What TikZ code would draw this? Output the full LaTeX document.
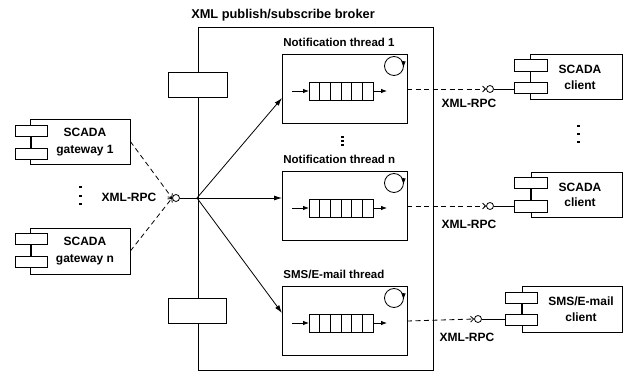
\documentclass[tikz,border=0pt]{standalone}
\usepackage{fontspec}
\setmainfont{Liberation Sans}
\usetikzlibrary{arrows.meta,calc}
\begin{document}
\begin{tikzpicture}[x=1pt,y=-1pt,line width=0.8pt,
  txt/.style={font=\bfseries\fontsize{12}{15.5}\selectfont,inner sep=0pt},
  thl/.style={font=\bfseries\fontsize{11.5}{14}\selectfont,inner sep=0pt},
  ctxt/.style={txt,align=center},
  bigbox/.style={draw,fill=white,inner sep=0pt},
  port/.style={draw,fill=white,inner sep=0pt,minimum width=32pt,minimum height=11pt},
  lolli/.style={circle,draw,fill=white,inner sep=0pt,minimum size=7pt},
  rpc/.style={dashed,dash pattern=on 5pt off 3.5pt,-{Straight Barb[length=3pt,width=6pt]}},
  flow/.style={-{Latex[length=8pt,width=5pt]}},
  qarrow/.style={-{Latex[length=6pt,width=4.5pt]}},
  dotmark/.style={fill=black,inner sep=0pt,minimum width=3pt,minimum height=2pt}]
\useasboundingbox (0,0) rectangle (625,371);

% broker
\node[txt,font=\bfseries\fontsize{12.8}{15}\selectfont] (title) at (283,15) {XML publish/subscribe broker};
\node[draw,anchor=north west,minimum width=235pt,minimum height=343pt,inner sep=0pt] (broker) at (198,27) {};
\node[port,minimum width=59pt,minimum height=25pt] (p1) at (197.5,84.5) {};
\node[port,minimum width=58pt,minimum height=25pt] (p2) at (197,310.5) {};

% thread boxes
\newcommand\threadbox[3]{%
  \node[draw,anchor=north west,minimum width=125pt,minimum height=69pt,inner sep=0pt] (#1) at (282,#2) {};
  \node[thl,anchor=west] (#1lab) at (283,#2-12) {#3};
  \begin{scope}[shift={(282,#2)}]
    \draw (27,28) rectangle (91,46);
    \foreach \i in {1,...,5} \draw ({27+\i*64/6},28) -- ({27+\i*64/6},46);
    \draw[qarrow] (10,37) -- (27,37);
    \draw[qarrow] (91,37) -- (105,37);
    \draw (112,12) circle (9.5);
    \draw[qarrow] (121.5,7.5) -- (121.5,13.5);
  \end{scope}
  \coordinate (#1out) at (407,#2+35);
}
\threadbox{t1}{54}{Notification thread 1}
\threadbox{tn}{171}{Notification thread n}
\threadbox{ts}{286}{SMS/E-mail thread}

% dots between threads
\node[dotmark] (d1) at (342,137) {};
\node[dotmark] (d2) at (342,141) {};
\node[dotmark] (d3) at (342,145) {};

% gateways
\node[bigbox,minimum width=100pt,minimum height=45pt] (g1) at (80,141.5) {};
\node[port] (g1a) at (31,130.5) {};
\node[port] (g1b) at (31,153.5) {};
\draw (g1a.south) -- (g1b.north);
\node[ctxt,font=\bfseries\fontsize{12}{17}\selectfont] (g1t) at (85,142) {SCADA\\gateway 1};

\node[bigbox,minimum width=100pt,minimum height=46pt] (gn) at (80,251) {};
\node[port] (gna) at (31,238.5) {};
\node[port] (gnb) at (31,261.5) {};
\draw (gna.south) -- (gnb.north);
\node[ctxt,font=\bfseries\fontsize{12}{17}\selectfont] (gnt) at (85,251) {SCADA\\gateway n};

\node[dotmark] (gd1) at (80,187) {};
\node[dotmark] (gd2) at (80,196) {};
\node[dotmark] (gd3) at (80,204) {};

% left interface
\node[lolli] (ll) at (176,198) {};
\coordinate (hub) at (197,198);
\node[txt] (lrpc) at (129,197) {XML-RPC};
\draw[rpc] (g1.east) -- (ll.west);
\draw[rpc] (gn.east) -- (ll.west);
\draw (ll.east) -- (hub);
\draw[flow] (hub) -- (282,98);
\draw[flow] (hub) -- (282,198);
\draw[flow] (hub) -- (282,313);

% clients
\node[bigbox,minimum width=92pt,minimum height=45pt] (c1) at (576,76.5) {};
\node[port,minimum width=33pt,minimum height=12pt] (c1a) at (530.5,65) {};
\node[port,minimum width=33pt,minimum height=11pt] (c1b) at (530.5,87.5) {};
\draw (c1a.south) -- (c1b.north);
\node[ctxt] (c1t) at (580,77.5) {SCADA\\client};

\node[bigbox,minimum width=91pt,minimum height=45pt] (c2) at (576.5,194.5) {};
\node[port,minimum width=33pt,minimum height=11pt] (c2a) at (530.5,182.5) {};
\node[port,minimum width=33pt,minimum height=12pt] (c2b) at (530.5,206) {};
\draw (c2a.south) -- (c2b.north);
\node[ctxt] (c2t) at (580,195) {SCADA\\client};

\node[bigbox,minimum width=100pt,minimum height=46pt] (c3) at (572,309) {};
\node[port,minimum width=32pt,minimum height=11pt] (c3a) at (521,297.5) {};
\node[port,minimum width=32pt,minimum height=11pt] (c3b) at (521,319.5) {};
\draw (c3a.south) -- (c3b.north);
\node[ctxt] (c3t) at (581,309) {SMS/E-mail\\client};

\node[dotmark] (cd1) at (578,126) {};
\node[dotmark] (cd2) at (578,134) {};
\node[dotmark] (cd3) at (578,142) {};

% right interfaces
\node[lolli] (r1) at (490,89) {};
\node[lolli] (r2) at (490,206) {};
\node[lolli] (r3) at (478,319) {};
\draw[rpc] (t1out) -- (r1.west);
\draw[rpc] (tnout) -- (r2.west);
\draw[rpc] (tsout) -- (r3.west);
\draw (r1.east) -- (r1.east -| c1b.west);
\draw (r2.east) -- (r2.east -| c2b.west);
\draw (r3.east) -- (r3.east -| c3b.west);
\node[txt] (rpc1) at (469,103) {XML-RPC};
\node[txt] (rpc2) at (469,224) {XML-RPC};
\node[txt] (rpc3) at (467,337) {XML-RPC};
\end{tikzpicture}
\end{document}
